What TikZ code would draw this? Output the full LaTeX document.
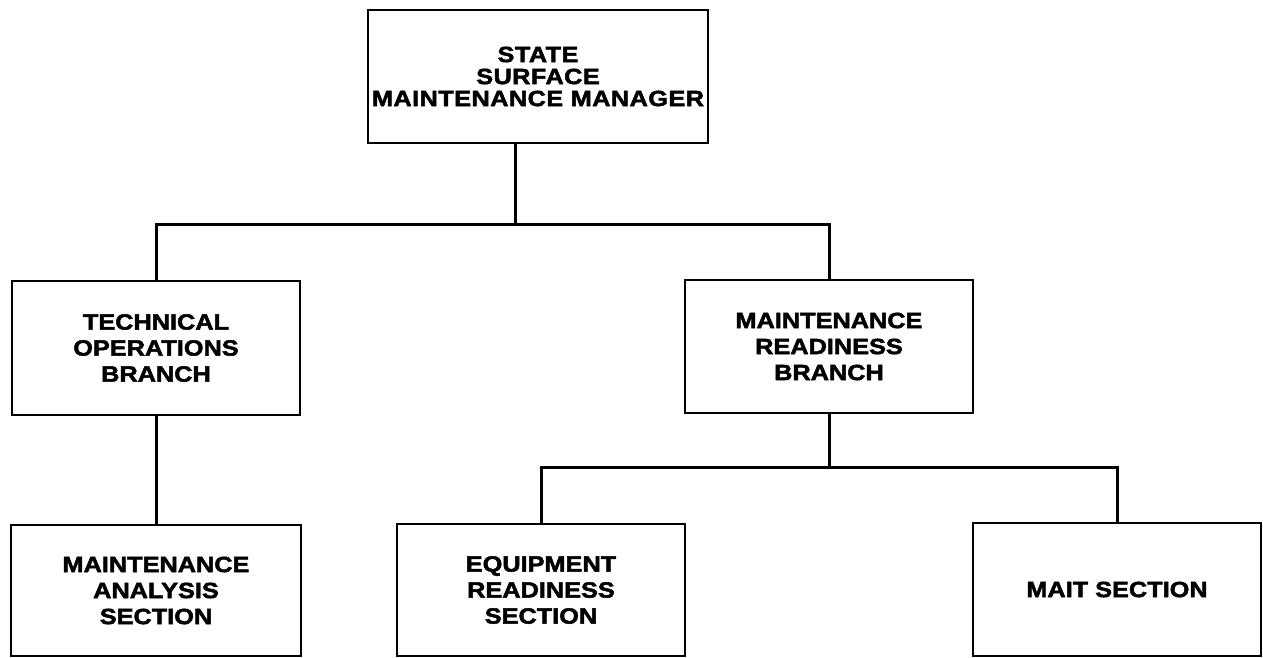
\documentclass[tikz,border=0pt]{standalone}
\usepackage{fontspec}
\setmainfont{Liberation Sans}[FakeStretch=1.15, BoldFeatures={FakeBold=2.2}]
\begin{document}
\begin{tikzpicture}[x=1pt,y=-1pt,
  orgbox/.style={draw, line width=2.8pt, inner sep=0pt, align=center,
    minimum width=288pt, minimum height=133pt,
    font=\bfseries\fontsize{22}{26}\selectfont},
  link/.style={line width=3pt, line cap=rect}]
\useasboundingbox (0,0) rectangle (1263,658);

% top level
\node[orgbox, minimum width=340pt,
      font=\bfseries\fontsize{22}{22}\selectfont\addfontfeature{LetterSpace=2}]
  (ssmm) at (538,76.5) {STATE\\SURFACE\\MAINTENANCE MANAGER};

% branches
\node[orgbox, minimum height=134pt] (tech) at (156,348) {TECHNICAL\\OPERATIONS\\BRANCH};
\node[orgbox] (ready) at (829,346.5) {MAINTENANCE\\READINESS\\BRANCH};

% sections
\node[orgbox, minimum width=290pt, minimum height=131pt] (analysis) at (156,590.5) {MAINTENANCE\\ANALYSIS\\SECTION};
\node[orgbox, minimum height=132pt] (equip) at (541,590) {EQUIPMENT\\READINESS\\SECTION};
\node[orgbox] (mait) at (1117,589.5) {MAIT SECTION};

% connectors
\coordinate (hub1) at (515,224);
\coordinate (hub2) at (829,467);
\draw[link] (ssmm.south -| hub1) -- (hub1);
\draw[link] (tech.north) |- (hub1) -| (ready.north);
\draw[link] (tech.south) -- (analysis.north);
\draw[link] (ready.south) -- (hub2);
\draw[link] (equip.north) |- (hub2) -| (mait.north);
\end{tikzpicture}
\end{document}
